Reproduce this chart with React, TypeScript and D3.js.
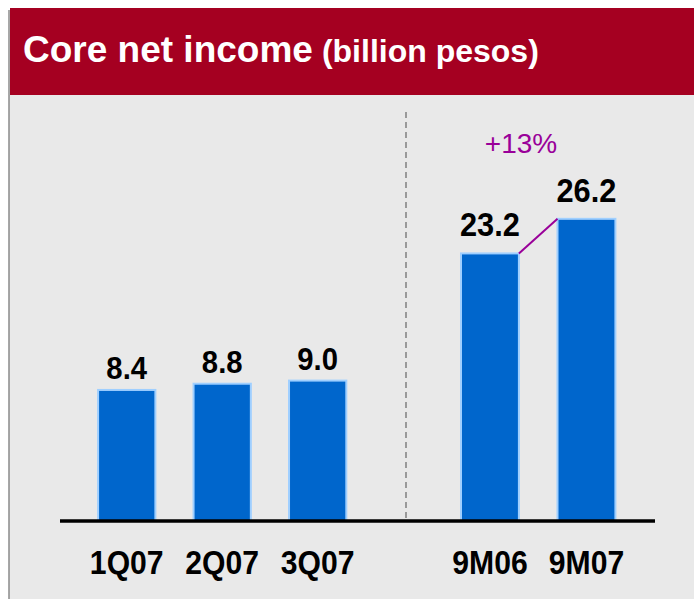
import React from "react";
import * as d3 from "d3";

const quarterCats = ["1Q07", "2Q07", "3Q07"];
const quarterValues = [8.4, 8.8, 9.0];
const ytdCats = ["9M06", "9M07"];
const ytdValues = [23.2, 26.2];
const growthLabel = "+13%";
const title = "Core net income";
const subtitle = "(billion pesos)";

function Label({ x, y, size, sx, children }: { x: number; y: number; size: number; sx: number; children: React.ReactNode }) {
  return (
    <text transform={`translate(${x},${y}) scale(${sx},1)`} textAnchor="middle" fontSize={size} fontWeight="bold" fill="#000">
      {children}
    </text>
  );
}

export default function App() {
  const W = 694, H = 599;
  const base = 521;
  const xL = d3.scaleBand<string>().domain(quarterCats).range([79, 365.4]).paddingInner(0.4).paddingOuter(0.2);
  const xR = d3.scaleBand<string>().domain(ytdCats).range([441.7, 634.7]).paddingInner(0.4).paddingOuter(0.2);
  const yL = d3.scaleLinear().domain([0, 10]).range([base, base - 156]);
  const yR = d3.scaleLinear().domain([0, 30]).range([base, base - 346]);
  const font = "'Liberation Sans', Arial, sans-serif";
  const blue = "#0066cc";
  const stroke = "#9fcfff";

  const x0 = (xR(ytdCats[0]) as number) + xR.bandwidth();
  const y0 = yR(ytdValues[0]);
  const x1 = xR(ytdCats[1]) as number;
  const y1 = yR(ytdValues[1]);

  return (
    <svg width={W} height={H} style={{ position: "absolute", left: 0, top: 0 }} fontFamily={font}>
      <rect x={0} y={0} width={W} height={H} fill="#ffffff" />
      <rect x={9} y={95} width={W - 9} height={H - 95} fill="#e9e9e9" />
      <line x1={9} y1={10} x2={9} y2={H} stroke="#8a8a8a" strokeWidth={1.5} />
      <rect x={10} y={8} width={W - 10} height={87} fill="#a50021" />
      <text x={23} y={62} fill="#ffffff" fontWeight="bold">
        <tspan fontSize={37}>{title}</tspan>
        <tspan fontSize={32} dx={9}>{subtitle}</tspan>
      </text>

      <line x1={406} y1={112} x2={406} y2={base} stroke="#808080" strokeWidth={1.5} strokeDasharray="6,4" />

      {quarterCats.map((c, i) => {
        const cx = (xL(c) as number) + xL.bandwidth() / 2;
        return (
          <g key={c}>
            <rect x={xL(c)} y={yL(quarterValues[i])} width={xL.bandwidth()} height={base - yL(quarterValues[i])}
              fill={blue} stroke={stroke} strokeWidth={2} />
            <Label x={cx} y={yL(quarterValues[i]) - 11} size={31.5} sx={0.93}>{quarterValues[i].toFixed(1)}</Label>
            <Label x={cx} y={574} size={33.5} sx={0.9}>{c}</Label>
          </g>
        );
      })}
      {ytdCats.map((c, i) => {
        const cx = (xR(c) as number) + xR.bandwidth() / 2;
        return (
          <g key={c}>
            <rect x={xR(c)} y={yR(ytdValues[i])} width={xR.bandwidth()} height={base - yR(ytdValues[i])}
              fill={blue} stroke={stroke} strokeWidth={2} />
            <Label x={cx} y={yR(ytdValues[i]) - 17} size={33.5} sx={0.92}>{ytdValues[i].toFixed(1)}</Label>
            <Label x={cx} y={574} size={33.5} sx={0.9}>{c}</Label>
          </g>
        );
      })}
      <line x1={x0} y1={y0} x2={x1} y2={y1} stroke="#990099" strokeWidth={2} />
      <text x={521} y={153} textAnchor="middle" fontSize={28} fill="#990099">{growthLabel}</text>

      <line x1={60} y1={base} x2={655} y2={base} stroke="#000" strokeWidth={3.5} />
    </svg>
  );
}
